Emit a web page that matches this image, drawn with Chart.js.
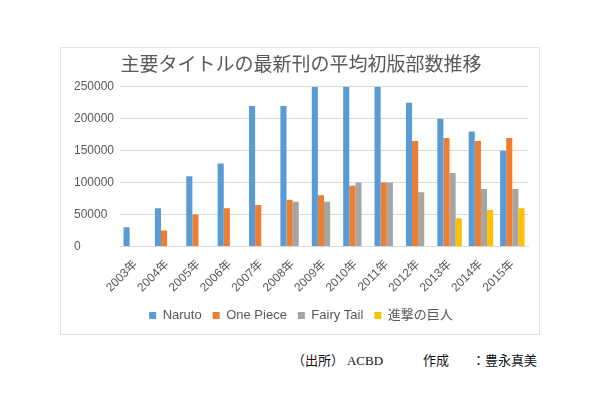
<!DOCTYPE html>
<html>
<head>
<meta charset="utf-8">
<script src="https://cdn.jsdelivr.net/npm/chart.js@4"></script>
<style>
    body { margin: 0; width: 600px; height: 398px; background: #fff; position: relative; overflow: hidden; }
    #box { position: absolute; left: 60px; top: 47px; width: 478px; height: 286px; border: 1px solid #e3e3e3; }
    .note { position: absolute; top: 350px; font: 13px "Noto Sans CJK JP"; color: #111; white-space: pre; }
</style>
</head>
<body>
<div id="box"><canvas id="chart"></canvas></div>
<div class="note" style="left:292px">（出所） <span style="font-family:'Liberation Serif'">ACBD</span></div>
<div class="note" style="left:423px">作成</div>
<div class="note" style="left:472px">：豊永真美</div>
<script>
const years = ['2003年', '2004年', '2005年', '2006年', '2007年', '2008年', '2009年',
               '2010年', '2011年', '2012年', '2013年', '2014年', '2015年'];
const naruto    = [30000, 60000, 110000, 130000, 220000, 220000, 250000, 250000, 250000, 225000, 200000, 180000, 150000];
const onePiece  = [null, 25000, 50000, 60000, 65000, 73000, 80000, 95000, 100000, 165000, 170000, 165000, 170000];
const fairyTail = [null, null, null, null, null, 70000, 70000, 100000, 100000, 85000, 115000, 90000, 90000];
const shingeki  = [null, null, null, null, null, null, null, null, null, null, 44000, 57000, 60000];
const yTicks = [0, 50000, 100000, 150000, 200000, 250000];

const font = '"Liberation Sans", Arial, sans-serif';

function initChart(canvasId) {
    const ctx = document.getElementById(canvasId);
    if (!ctx) return;

    const ds = (label, data, color) => ({
        label: label,
        data: data,
        backgroundColor: color,
        categoryPercentage: 0.78,
        barPercentage: 1.0,
    });

    new Chart(ctx, {
        type: 'bar',
        data: {
            labels: years,
            datasets: [
                ds('Naruto', naruto, '#5b9bd5'),
                ds('One Piece', onePiece, '#ed7d31'),
                ds('Fairy Tail', fairyTail, '#a5a5a5'),
                ds('進撃の巨人', shingeki, '#ffc000'),
            ]
        },
        options: {
            responsive: true,
            maintainAspectRatio: false,
            animation: false,
            layout: { padding: { left: 13, right: 11, top: 0, bottom: 2 } },
            plugins: {
                title: {
                    display: true,
                    text: '主要タイトルの最新刊の平均初版部数推移',
                    color: '#595959',
                    font: { family: '"Noto Sans CJK JP"', size: 19, weight: 'normal' },
                    padding: { top: 4, bottom: 12 }
                },
                legend: {
                    position: 'bottom',
                    labels: {
                        boxWidth: 7, boxHeight: 7, padding: 11,
                        color: '#595959',
                        font: { family: font + ', "Noto Sans CJK JP"', size: 13 }
                    }
                },
                tooltip: { enabled: false }
            },
            scales: {
                x: {
                    grid: { display: false },
                    border: { color: '#d9d9d9' },
                    ticks: {
                        color: '#595959',
                        maxRotation: 45, minRotation: 45,
                        font: { family: font + ', "Noto Sans CJK JP"', size: 12 }
                    }
                },
                y: {
                    min: 0, max: 250000,
                    afterBuildTicks: axis => { axis.ticks = yTicks.map(v => ({ value: v })); },
                    grid: { color: '#d9d9d9', drawTicks: false },
                    border: { display: false },
                    ticks: {
                        color: '#595959',
                        padding: 3,
                        crossAlign: 'far',
                        callback: v => String(v),
                        font: { family: font, size: 12 }
                    }
                }
            }
        }
    });
}

initChart('chart');
</script>
</body>
</html>
